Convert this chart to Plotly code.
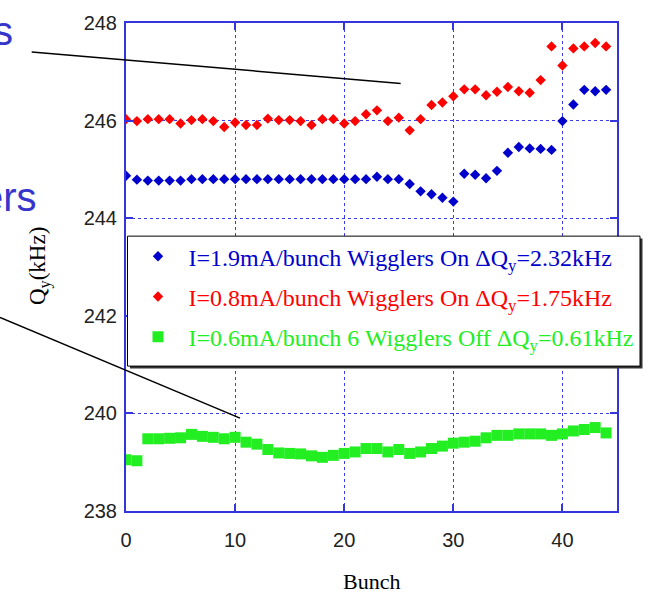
import plotly.graph_objects as go

bunch = list(range(45))
q_high_on = [244.87, 244.79, 244.77, 244.77, 244.77, 244.77, 244.80, 244.80, 244.80, 244.80,
             244.80, 244.80, 244.80, 244.80, 244.80, 244.80, 244.80, 244.80, 244.80, 244.80,
             244.80, 244.80, 244.80, 244.85, 244.80, 244.80, 244.70, 244.55, 244.49, 244.42,
             244.34, 244.91, 244.89, 244.82, 244.97, 245.34, 245.46, 245.43, 245.42, 245.40,
             245.99, 246.33, 246.63, 246.60, 246.63]
q_low_on = [246.03, 245.99, 246.03, 246.03, 246.03, 245.94, 246.01, 246.03, 245.99, 245.87,
            245.96, 245.91, 245.91, 246.04, 246.01, 246.01, 245.99, 245.91, 246.03, 246.03,
            245.94, 245.99, 246.13, 246.21, 245.99, 246.06, 245.80, 246.03, 246.32, 246.37,
            246.50, 246.64, 246.64, 246.52, 246.59, 246.69, 246.60, 246.57, 246.83, 247.52,
            247.13, 247.48, 247.52, 247.59, 247.52]
q_off = [239.05, 239.03, 239.48, 239.48, 239.49, 239.50, 239.57, 239.53, 239.51, 239.48,
         239.51, 239.41, 239.37, 239.26, 239.19, 239.18, 239.17, 239.13, 239.10, 239.14,
         239.18, 239.21, 239.28, 239.28, 239.21, 239.26, 239.18, 239.21, 239.28, 239.33,
         239.39, 239.41, 239.43, 239.50, 239.55, 239.55, 239.58, 239.58, 239.58, 239.55,
         239.58, 239.64, 239.67, 239.71, 239.60]

names = ["I=1.9mA/bunch Wigglers On \u0394Q<sub>y</sub>=2.32kHz",
         "I=0.8mA/bunch Wigglers On \u0394Q<sub>y</sub>=1.75kHz",
         "I=0.6mA/bunch 6 Wigglers Off \u0394Q<sub>y</sub>=0.61kHz"]
colors = ["#0000cc", "#ff0000", "#22ee22"]
symbols = ["diamond", "diamond", "square"]
sizes = [8, 8, 11]
series = [q_high_on, q_low_on, q_off]

x_ticks = [0, 10, 20, 30, 40]
y_ticks = [238, 240, 242, 244, 246, 248]

fig = go.Figure()
for i, (ys, nm, c, s, sz) in enumerate(zip(series, names, colors, symbols, sizes)):
    fig.add_trace(go.Scatter(
        x=bunch, y=ys, mode="markers",
        name="<span style='color:%s'>%s</span>" % (c, nm),
        legendgroup="g%d" % i,
        marker=dict(symbol=s, size=sz, color=c, line=dict(width=0)),
    ))

axis_blue = "#3535dd"
grid_blue = "#3a3aee"

L, R, T, B = 126, 34, 21, 83
W, H = 651, 594
PW, PH = W - L - R, H - T - B


def px2paper(px, py):
    return (px - L) / PW, (H - B - py) / PH


leg_x, leg_y = px2paper(127.5, 233.0)

fig.update_layout(
    width=W, height=H,
    margin=dict(l=L, r=R, t=T, b=B),
    paper_bgcolor="white", plot_bgcolor="white",
    showlegend=True,
    legend=dict(
        x=leg_x, y=leg_y, xanchor="left", yanchor="top",
        bgcolor="rgba(0,0,0,0)", borderwidth=0,
        font=dict(family="Liberation Serif", size=24, color="black"),
        itemwidth=51, tracegroupgap=6,
    ),
    xaxis=dict(
        range=[0, 45], tickvals=x_ticks, ticktext=[str(v) for v in x_ticks],
        showgrid=True, gridcolor=grid_blue, griddash="dot", gridwidth=1,
        showline=True, linecolor=axis_blue, linewidth=2, mirror="ticks",
        ticks="inside", ticklen=7, tickwidth=2, tickcolor=axis_blue,
        zeroline=False, ticklabelstandoff=10,
        tickfont=dict(family="Liberation Sans", size=20, color="#222222"),
    ),
    yaxis=dict(
        range=[238, 248], tickvals=y_ticks, ticktext=[str(v) for v in y_ticks],
        showgrid=True, gridcolor=grid_blue, griddash="dot", gridwidth=1,
        showline=True, linecolor=axis_blue, linewidth=2, mirror="ticks",
        ticks="inside", ticklen=7, tickwidth=2, tickcolor=axis_blue,
        zeroline=False, ticklabelstandoff=3,
        tickfont=dict(family="Liberation Sans", size=20, color="#222222"),
    ),
)

# legend frame with drop shadow
sx0, sy0 = px2paper(130.0, 368.0)
sx1, sy1 = px2paper(642.5, 237.5)
fig.add_shape(type="rect", xref="paper", yref="paper", x0=sx0, y0=sy0, x1=sx1, y1=sy1,
              fillcolor="#333333", line=dict(width=0), layer="above")
bx0, by0 = px2paper(127.5, 365.5)
bx1, by1 = px2paper(640.0, 235.0)
fig.add_shape(type="rect", xref="paper", yref="paper", x0=bx0, y0=by0, x1=bx1, y1=by1,
              fillcolor="white", line=dict(color="black", width=1), layer="above")

# axis titles
fig.add_annotation(text="Bunch", xref="paper", yref="paper", x=0.5, y=px2paper(0, 582)[1],
                   xanchor="center", yanchor="middle", showarrow=False,
                   font=dict(family="Liberation Serif", size=22, color="black"))
qx, qy = px2paper(39, 265)
fig.add_annotation(text="Q<sub>y</sub>(kHz)", xref="paper", yref="paper",
                   x=qx, y=qy, textangle=-90,
                   xanchor="center", yanchor="middle", showarrow=False,
                   font=dict(family="Liberation Serif", size=23, color="black"))

# fragments of slide text at the left edge
ax, ay = px2paper(15, 29.4)
fig.add_annotation(text="s", xref="paper", yref="paper", x=ax, y=ay,
                   xanchor="right", yanchor="middle", showarrow=False,
                   font=dict(family="Liberation Sans", size=40, color="#3535cc"))
ax, ay = px2paper(39, 195.4)
fig.add_annotation(text="ers", xref="paper", yref="paper", x=ax, y=ay,
                   xanchor="right", yanchor="middle", showarrow=False,
                   font=dict(family="Liberation Sans", size=40, color="#3535cc"))

# pointer lines from slide
for (a, b) in [((31.7, 50), (400.7, 81.7)), ((0, 316.7), (240, 417.7))]:
    x0, y0 = px2paper(*a)
    x1, y1 = px2paper(*b)
    fig.add_shape(type="line", xref="paper", yref="paper", x0=x0, y0=y0, x1=x1, y1=y1,
                  line=dict(color="black", width=1.5), layer="above")

fig.write_html("out.html")
